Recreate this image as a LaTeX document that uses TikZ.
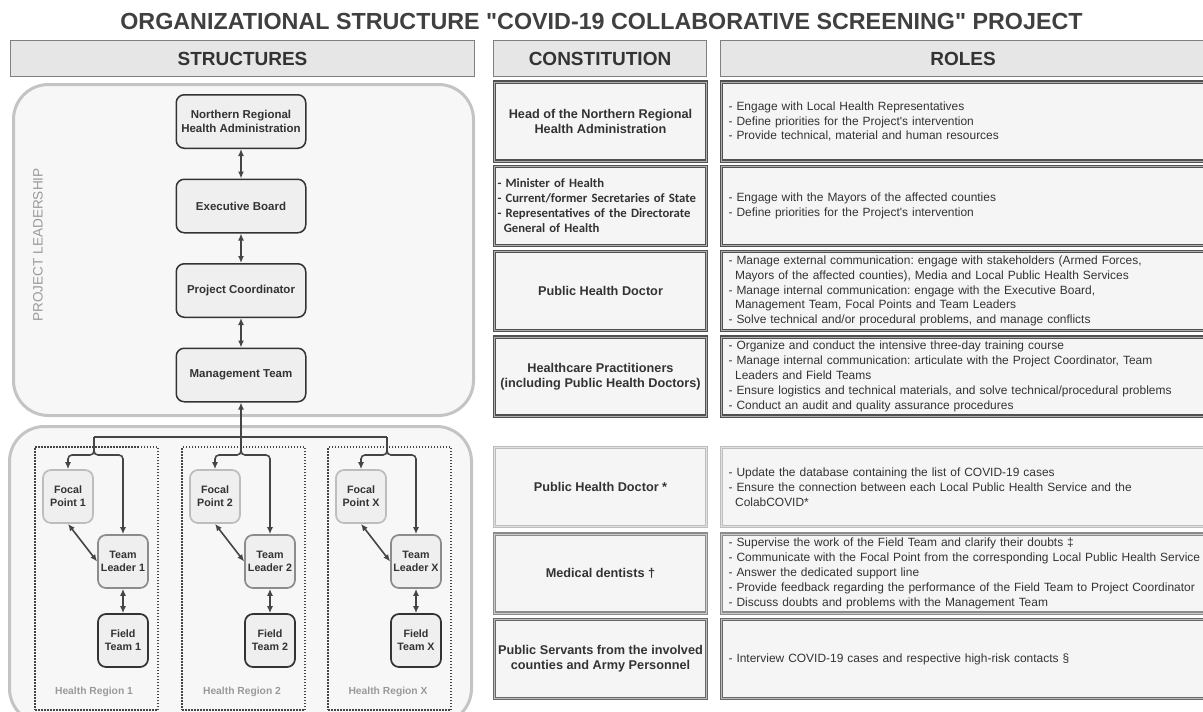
\documentclass[tikz,border=0pt]{standalone}
\usepackage{fontspec}
\setmainfont{Liberation Sans}[Ligatures=TeXOff]
\newfontfamily\calibrifont{Carlito}
\usetikzlibrary{positioning,arrows.meta}
\definecolor{inkgray}{HTML}{333333}
\definecolor{titlegray}{HTML}{404040}
\definecolor{hdrfill}{HTML}{E6E6E6}
\definecolor{hdrline}{HTML}{808080}
\definecolor{rowfill}{HTML}{F5F5F5}
\definecolor{darkline}{HTML}{505050}
\definecolor{deepline}{HTML}{686868}
\definecolor{midline}{HTML}{8C8C8C}
\definecolor{lightline}{HTML}{BDBDBD}
\definecolor{panelline}{HTML}{C4C4C4}
\definecolor{panelfill}{HTML}{F7F7F7}
\definecolor{nodefill}{HTML}{EFEFEF}
\definecolor{arrowgray}{HTML}{454545}
\definecolor{captiongray}{HTML}{9A9A9A}
\frenchspacing

\begin{document}
\begin{tikzpicture}[x=1pt, y=-1pt, >={Latex[length=7pt,width=6pt]},
  hdr/.style={rectangle, draw=hdrline, line width=1pt, fill=hdrfill, minimum height=36pt,
              inner sep=0pt, text=inkgray, font=\fontsize{19}{22}\selectfont\bfseries},
  rowline/.style={draw=#1, double=#1!45!white, double distance=0.9pt, line width=1.1pt},
  cbox/.style={rectangle, rowline=#1, fill=rowfill, minimum width=212pt, minimum height=79pt,
               inner xsep=3pt, align=center, text=inkgray, font=\fontsize{12.7}{15.3}\selectfont\bfseries},
  rbox/.style={rectangle, rowline=#1, fill=rowfill, minimum width=486pt, minimum height=79pt,
               anchor=west, inner xsep=7.5pt, text width=480pt, align=left, text=inkgray,
               font=\fontsize{11.95}{14.8}\selectfont},
  panel/.style={rectangle, rounded corners=35pt, draw=panelline, line width=3pt, fill=panelfill},
  orgbox/.style={rectangle, rounded corners=8pt, draw=inkgray, line width=1.5pt, fill=nodefill,
                 minimum width=129.5pt, minimum height=53.5pt, align=center, text=inkgray,
                 font=\fontsize{11.5}{13.3}\selectfont\bfseries},
  teambox/.style={rectangle, rounded corners=8pt, draw=#1, line width=1.7pt, fill=nodefill,
                  minimum width=50pt, minimum height=53pt, inner sep=1pt, align=center, text=inkgray,
                  font=\fontsize{10.7}{12.7}\selectfont\bfseries},
  region/.style={rectangle, draw=arrowgray, line width=1.5pt, dash pattern=on 1.5pt off 1.5pt,
                 minimum width=123pt, minimum height=263pt},
  reglabel/.style={text=captiongray, font=\fontsize{10.3}{12}\selectfont\bfseries},
  conn/.style={draw=arrowgray, line width=1.6pt}
]
\useasboundingbox (0,0) rectangle (1203,712);

% title and column headers
\node[text=titlegray, font=\fontsize{23.3}{28}\selectfont\bfseries] (title) at (601.5,21.5)
  {ORGANIZATIONAL STRUCTURE "COVID-19 COLLABORATIVE SCREENING" PROJECT};
\node[hdr, minimum width=464pt] (hstruct) at (242.5,58.5) {STRUCTURES};
\node[hdr, minimum width=213pt] (hconst) at (600,58.5) {CONSTITUTION};
\node[hdr, minimum width=486pt, anchor=west] (hroles) at (719.5,58.5) {ROLES};

% left side: panels
\node[panel, minimum width=460pt, minimum height=331pt] (lead) at (243.5,250) {};
\node[panel, minimum width=462pt, minimum height=297pt] (field) at (240.5,575) {};
\node[rotate=90, text=captiongray, font=\fontsize{13.6}{16}\selectfont] (leadlabel) at (38,245)
  {PROJECT LEADERSHIP};

\node[region] (reg1) at (96.5,578.5) {};
\node[region] (reg2) at (243.5,578.5) {};
\node[region] (regx) at (389.5,578.5) {};
\node[reglabel] (lab1) at (94,692) {Health Region 1};
\node[reglabel] (lab2) at (242,692) {Health Region 2};
\node[reglabel] (labx) at (388,692) {Health Region X};

% leadership chain
\node[orgbox] (nrha) at (241,121.5) {Northern Regional\\Health Administration};
\node[orgbox, below=29.5pt of nrha] (board) {Executive Board};
\node[orgbox, below=29.5pt of board] (coord) {Project Coordinator};
\node[orgbox, below=29.5pt of coord] (mgmt) {Management Team};
\draw[conn, <->] (nrha) -- (board);
\draw[conn, <->] (board) -- (coord);
\draw[conn, <->] (coord) -- (mgmt);

% health regions
\node[teambox=lightline] (fp1) at (68,496.5) {Focal\\Point 1};
\node[teambox=midline] (tl1) at (123,561.5) {Team\\Leader 1};
\node[teambox=inkgray] (ft1) at (123,640.5) {Field\\Team 1};
\node[teambox=lightline] (fp2) at (215,496.5) {Focal\\Point 2};
\node[teambox=midline] (tl2) at (270,561.5) {Team\\Leader 2};
\node[teambox=inkgray] (ft2) at (270,640.5) {Field\\Team 2};
\node[teambox=lightline] (fpx) at (361,496.5) {Focal\\Point X};
\node[teambox=midline] (tlx) at (416,561.5) {Team\\Leader X};
\node[teambox=inkgray] (ftx) at (416,640.5) {Field\\Team X};

\coordinate (bus1) at (94,437);
\coordinate (bus2) at (241,437);
\coordinate (busx) at (387,437);
\draw[conn] (bus1) -- (busx);
\draw[conn, ->] (bus2) -- (mgmt);
\draw[conn, ->, rounded corners=4pt] (bus1) -- ++(0,18) -| (fp1.north);
\draw[conn, ->, rounded corners=4pt] (bus1) -- ++(0,18) -| (tl1.north);
\draw[conn, ->, rounded corners=4pt] (bus2) -- ++(0,18) -| (fp2.north);
\draw[conn, ->, rounded corners=4pt] (bus2) -- ++(0,18) -| (tl2.north);
\draw[conn, ->, rounded corners=4pt] (busx) -- ++(0,18) -| (fpx.north);
\draw[conn, ->, rounded corners=4pt] (busx) -- ++(0,18) -| (tlx.north);
\draw[conn, <->] (fp1.south) -- (tl1.west);
\draw[conn, <->] (fp2.south) -- (tl2.west);
\draw[conn, <->] (fpx.south) -- (tlx.west);
\draw[conn, <->] (tl1) -- (ft1);
\draw[conn, <->] (tl2) -- (ft2);
\draw[conn, <->] (tlx) -- (ftx);

% constitution and roles table
\node[cbox=darkline] (c1) at (600.5,121.5) {Head of the Northern Regional\\Health Administration};
\node[rbox=darkline] (r1) at (720.5,121.5) {- Engage with Local Health Representatives\\
  - Define priorities for the Project's intervention\\
  - Provide technical, material and human resources};

\node[cbox=darkline, text width=206pt, align=left,
      font=\calibrifont\fontsize{12.7}{15}\selectfont\bfseries] (c2) at (600.5,206)
  {- Minister of Health\\- Current/former Secretaries of State\\
   - Representatives of the Directorate\\\hspace*{0.5em}General of Health};
\node[rbox=darkline] (r2) at (720.5,206) {- Engage with the Mayors of the affected counties\\
  - Define priorities for the Project's intervention};

\node[cbox=darkline] (c3) at (600.5,291) {Public Health Doctor};
\node[rbox=darkline] (r3) at (720.5,291) {- Manage external communication: engage with stakeholders (Armed Forces,\\
  \hspace*{0.55em}Mayors of the affected counties), Media and Local Public Health Services\\
  - Manage internal communication: engage with the Executive Board,\\
  \hspace*{0.55em}Management Team, Focal Points and Team Leaders\\
  - Solve technical and/or procedural problems, and manage conflicts};

\node[cbox=darkline] (c4) at (600.5,376.5) {Healthcare Practitioners\\(including Public Health Doctors)};
\node[rbox=darkline] (r4) at (720.5,376.5) {- Organize and conduct the intensive three-day training course\\
  - Manage internal communication: articulate with the Project Coordinator, Team\\
  \hspace*{0.55em}Leaders and Field Teams\\
  - Ensure logistics and technical materials, and solve technical/procedural problems\\
  - Conduct an audit and quality assurance procedures};

\node[cbox=lightline] (c5) at (600.5,487) {Public Health Doctor *};
\node[rbox=lightline] (r5) at (720.5,487) {- Update the database containing the list of COVID-19 cases\\
  - Ensure the connection between each Local Public Health Service and the\\
  \hspace*{0.55em}ColabCOVID*};

\node[cbox=midline] (c6) at (600.5,573.5) {Medical dentists †};
\node[rbox=midline] (r6) at (720.5,573.5) {- Supervise the work of the Field Team and clarify their doubts ‡\\
  - Communicate with the Focal Point from the corresponding Local Public Health Service\\
  - Answer the dedicated support line\\
  - Provide feedback regarding the performance of the Field Team to Project Coordinator\\
  - Discuss doubts and problems with the Management Team};

\node[cbox=deepline] (c7) at (600.5,659) {Public Servants from the involved\\counties and Army Personnel};
\node[rbox=deepline] (r7) at (720.5,659) {- Interview COVID-19 cases and respective high-risk contacts §};
\end{tikzpicture}
\end{document}
